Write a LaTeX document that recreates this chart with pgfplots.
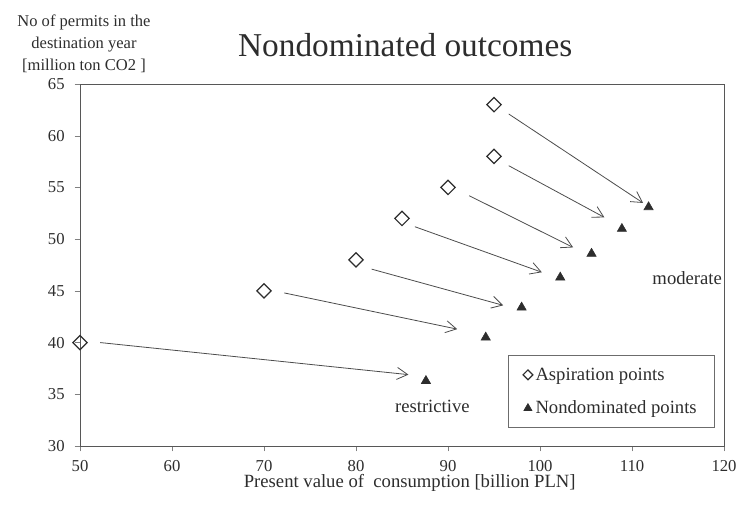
\documentclass[border=0pt]{standalone}
\usepackage{pgfplots}
\pgfplotsset{compat=1.18}
\usepackage{fontspec}
\setmainfont{Liberation Serif}
\usetikzlibrary{arrows.meta}
\definecolor{ink}{RGB}{45,45,45}
\begin{document}
\begin{tikzpicture}
\begin{axis}[
    scale only axis,
    width=483pt, height=271.5pt,
    xmin=50, xmax=120, ymin=30, ymax=65,
    xtick={50,60,70,80,90,100,110,120}, ytick={30,35,40,45,50,55,60,65},
    tick align=outside, tick pos=left,
    major tick length=4pt,
    axis line style={ink!80, line width=0.6pt},
    tick label style={font=\fontsize{12.5}{14}\selectfont, text=ink},
    /pgf/number format/assume math mode=true,
    yticklabel style={xshift=-4pt},
    xticklabel style={yshift=-3pt},
    xlabel={Present value of\ \ consumption [billion PLN]},
    xlabel style={at={(axis description cs:0.512,0)}, anchor=center, yshift=-28pt,
                  font=\fontsize{14}{16}\selectfont, text=ink},
    legend style={at={(0.985,0.05)}, anchor=south east, draw=ink!70,
                  font=\fontsize{14}{16}\selectfont, text=ink,
                  row sep=10pt, inner xsep=11pt, inner ysep=7pt},
    legend image code/.code={\draw[#1, line width=0.5pt] plot coordinates {(0.12cm,0cm)};},
    legend cell align=left,
    clip=false,
]
    % arrows from aspiration points to nondominated points
    \addplot[ink!85, line width=0.6pt, forget plot, -{Straight Barb[length=8pt,width=9pt]}]
        coordinates {(52.2,40.0) (85.7,36.9)};
    \addplot[ink!85, line width=0.6pt, forget plot, -{Straight Barb[length=8pt,width=9pt]}]
        coordinates {(72.2,44.8) (91.0,41.3)};
    \addplot[ink!85, line width=0.6pt, forget plot, -{Straight Barb[length=8pt,width=9pt]}]
        coordinates {(81.7,47.1) (96.0,43.6)};
    \addplot[ink!85, line width=0.6pt, forget plot, -{Straight Barb[length=8pt,width=9pt]}]
        coordinates {(86.4,51.2) (100.2,46.8)};
    \addplot[ink!85, line width=0.6pt, forget plot, -{Straight Barb[length=8pt,width=9pt]}]
        coordinates {(92.3,54.2) (103.6,49.2)};
    \addplot[ink!85, line width=0.6pt, forget plot, -{Straight Barb[length=8pt,width=9pt]}]
        coordinates {(96.6,57.1) (107.0,52.1)};
    \addplot[ink!85, line width=0.6pt, forget plot, -{Straight Barb[length=8pt,width=9pt]}]
        coordinates {(96.6,62.1) (111.2,53.5)};
    \addplot[only marks, mark=square, mark size=3.8pt,
             mark options={rotate=45, ink, line width=0.9pt, fill=white},
             legend image post style={mark size=2.6pt}]
        coordinates {(50,40) (70,45) (80,48) (85,52) (90,55) (95,58) (95,63)};
    \addlegendentry{Aspiration points}
    \addplot[only marks, mark=triangle*, mark size=4pt,
             mark options={ink, fill=ink},
             legend image post style={mark size=3.4pt}]
        coordinates {(87.6,36.3) (94.1,40.5) (98.0,43.4) (102.2,46.3)
                     (105.6,48.6) (108.9,51.0) (111.8,53.1)};
    \addlegendentry{Nondominated points}
    \node[font=\fontsize{14}{16}\selectfont, text=ink] at (axis cs:116.0,46.2) {moderate};
    \node[font=\fontsize{14}{16}\selectfont, text=ink] at (axis cs:88.3,33.8) {restrictive};
\end{axis}
\node[font=\fontsize{25}{30}\selectfont, text=ink] at ([shift={(243.9pt,29pt)}]current axis.north west) {Nondominated outcomes};
\node[font=\fontsize{12.4}{16.5}\selectfont, text=ink, align=center] at ([shift={(3pt,30pt)}]current axis.north west)
    {No of permits in the\\ destination year\\ {[}million ton CO2 ]};
\pgfresetboundingbox
\path[use as bounding box] ([shift={(-60pt,-44.25pt)}]current axis.south west)
    rectangle ([shift={(12.75pt,63pt)}]current axis.north east);
\end{tikzpicture}
\end{document}
